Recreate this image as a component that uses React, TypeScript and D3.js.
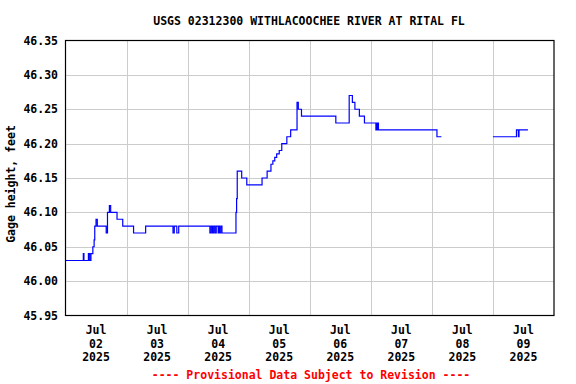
import React, { useEffect, useRef } from 'react';
import * as d3 from 'd3';

// Gage height readings (step changes), null marks the data gap
const obsTimes = [
  '2025-07-02 00:00', '2025-07-02 07:00', '2025-07-02 07:15', '2025-07-02 09:00', '2025-07-02 09:30',
  '2025-07-02 10:00', '2025-07-02 10:45', '2025-07-02 11:15', '2025-07-02 11:30', '2025-07-02 12:00',
  '2025-07-02 12:30', '2025-07-02 16:00', '2025-07-02 16:30', '2025-07-02 17:15', '2025-07-02 17:45',
  '2025-07-02 20:15', '2025-07-02 22:30', '2025-07-03 02:45', '2025-07-03 07:30', '2025-07-03 18:15',
  '2025-07-03 18:45', '2025-07-03 19:45', '2025-07-03 20:30', '2025-07-04 08:45', '2025-07-04 09:15',
  '2025-07-04 09:45', '2025-07-04 10:15', '2025-07-04 10:45', '2025-07-04 11:15', '2025-07-04 12:00',
  '2025-07-04 12:15', '2025-07-04 12:30', '2025-07-04 13:00', '2025-07-04 13:30', '2025-07-04 19:00',
  '2025-07-04 19:15', '2025-07-04 19:30', '2025-07-04 21:15', '2025-07-04 23:15', '2025-07-05 05:15',
  '2025-07-05 07:15', '2025-07-05 08:45', '2025-07-05 09:30', '2025-07-05 10:15', '2025-07-05 11:00',
  '2025-07-05 12:00', '2025-07-05 13:00', '2025-07-05 15:00', '2025-07-05 16:30', '2025-07-05 19:00',
  '2025-07-05 19:30', '2025-07-05 20:45', '2025-07-06 10:15', '2025-07-06 15:30', '2025-07-06 16:45',
  '2025-07-06 17:45', '2025-07-06 19:30', '2025-07-06 21:30', '2025-07-07 02:00', '2025-07-07 02:15',
  '2025-07-07 02:30', '2025-07-07 02:45', '2025-07-07 03:00', '2025-07-08 02:00', '2025-07-08 03:45',
  '2025-07-08 04:00', '2025-07-09 00:00', '2025-07-09 09:15', '2025-07-09 10:00', '2025-07-09 10:15',
  '2025-07-09 13:45',
];
const obsValues: (number | null)[] = [
  46.03, 46.04, 46.03, 46.04, 46.03,
  46.04, 46.05, 46.06, 46.08, 46.09,
  46.08, 46.07, 46.10, 46.11, 46.10,
  46.09, 46.08, 46.07, 46.08, 46.07,
  46.08, 46.07, 46.08, 46.07, 46.08,
  46.07, 46.08, 46.07, 46.08, 46.07,
  46.08, 46.07, 46.08, 46.07, 46.10,
  46.12, 46.16, 46.15, 46.14, 46.15,
  46.16, 46.17, 46.175, 46.18, 46.185,
  46.19, 46.20, 46.21, 46.22, 46.26,
  46.25, 46.24, 46.23, 46.27, 46.26,
  46.25, 46.24, 46.23, 46.22, 46.23,
  46.22, 46.23, 46.22, 46.21, 46.21,
  null, 46.21, 46.22, 46.21, 46.22,
  46.22,
];

const yTicks = [45.95, 46.0, 46.05, 46.1, 46.15, 46.2, 46.25, 46.3, 46.35];
const dayLabels = ['02', '03', '04', '05', '06', '07', '08', '09'];

const title = 'USGS 02312300 WITHLACOOCHEE RIVER AT RITAL FL';
const yLabel = 'Gage height, feet';
const footer = '---- Provisional Data Subject to Revision ----';

const W = 576;
const H = 384;
const FONT = '"DejaVu Sans Mono", "Liberation Mono", monospace';

const App: React.FC = () => {
  const ref = useRef<SVGSVGElement | null>(null);

  useEffect(() => {
    if (!ref.current) return;
    const svg = d3.select(ref.current);
    svg.selectAll('*').remove();

    const left = 65.5, right = 554, top = 40.5, bottom = 315.5;
    const parse = d3.timeParse('%Y-%m-%d %H:%M');

    const x = d3.scaleTime()
      .domain([parse('2025-07-02 00:00')!, parse('2025-07-10 00:00')!])
      .range([left, right]);
    const y = d3.scaleLinear().domain([45.95, 46.35]).range([bottom, top]);

    const data = obsTimes.map((t, i) => ({ t: parse(t)!, v: obsValues[i] }));

    // grid
    const days = d3.timeDay.range(parse('2025-07-03 00:00')!, parse('2025-07-10 00:00')!);
    svg.append('g').selectAll('line').data(days).enter().append('line')
      .attr('x1', d => Math.round(x(d)) + 0.5).attr('x2', d => Math.round(x(d)) + 0.5)
      .attr('y1', top).attr('y2', bottom)
      .attr('stroke', '#cccccc').attr('stroke-width', 1);
    svg.append('g').selectAll('line').data(yTicks.slice(1, -1)).enter().append('line')
      .attr('x1', left).attr('x2', right)
      .attr('y1', d => Math.round(y(d)) + 0.5).attr('y2', d => Math.round(y(d)) + 0.5)
      .attr('stroke', '#cccccc').attr('stroke-width', 1);

    // data line
    const line = d3.line<{ t: Date; v: number | null }>()
      .defined(d => d.v !== null)
      .x(d => x(d.t))
      .y(d => y(d.v as number))
      .curve(d3.curveStepAfter);
    svg.append('path')
      .datum(data)
      .attr('fill', 'none')
      .attr('stroke', '#0000ff')
      .attr('stroke-width', 1.2)
      .attr('d', line);

    // frame
    svg.append('rect')
      .attr('x', left).attr('y', top)
      .attr('width', right - left).attr('height', bottom - top)
      .attr('fill', 'none').attr('stroke', '#000').attr('stroke-width', 1.2);

    // y tick labels
    svg.append('g').selectAll('text').data(yTicks).enter().append('text')
      .attr('x', 58).attr('y', d => y(d) + 4)
      .attr('text-anchor', 'end')
      .style('font-family', FONT).style('font-size', '11.5px').style('font-weight', 'bold')
      .text(d => d.toFixed(2));

    // x labels at noon of each day
    const xl = svg.append('g').selectAll('text').data(dayLabels).enter().append('text')
      .attr('text-anchor', 'middle')
      .style('font-family', FONT).style('font-size', '11.5px').style('font-weight', 'bold');
    const noon = (d: string) => x(parse(`2025-07-${d} 12:00`)!);
    xl.append('tspan').attr('x', noon).attr('y', 334).text('Jul');
    xl.append('tspan').attr('x', noon).attr('y', 347.5).text(d => d);
    xl.append('tspan').attr('x', noon).attr('y', 361).text('2025');

    // titles
    svg.append('text')
      .attr('x', 309).attr('y', 24.5)
      .attr('text-anchor', 'middle')
      .style('font-family', FONT).style('font-size', '11.5px').style('font-weight', 'bold')
      .text(title);

    svg.append('text')
      .attr('transform', `translate(15,${(top + bottom) / 2 + 6}) rotate(-90)`)
      .attr('text-anchor', 'middle')
      .style('font-family', FONT).style('font-size', '11.5px').style('font-weight', 'bold')
      .text(yLabel);

    svg.append('text')
      .attr('x', 311).attr('y', 379)
      .attr('text-anchor', 'middle')
      .attr('fill', '#ff0000')
      .style('font-family', FONT).style('font-size', '11.5px').style('font-weight', 'bold')
      .text(footer);
  }, []);

  return (
    <div style={{ position: 'absolute', left: 0, top: 0, width: W, height: H, background: '#fff' }}>
      <svg ref={ref} width={W} height={H} style={{ display: 'block' }} />
    </div>
  );
};

export default App;
